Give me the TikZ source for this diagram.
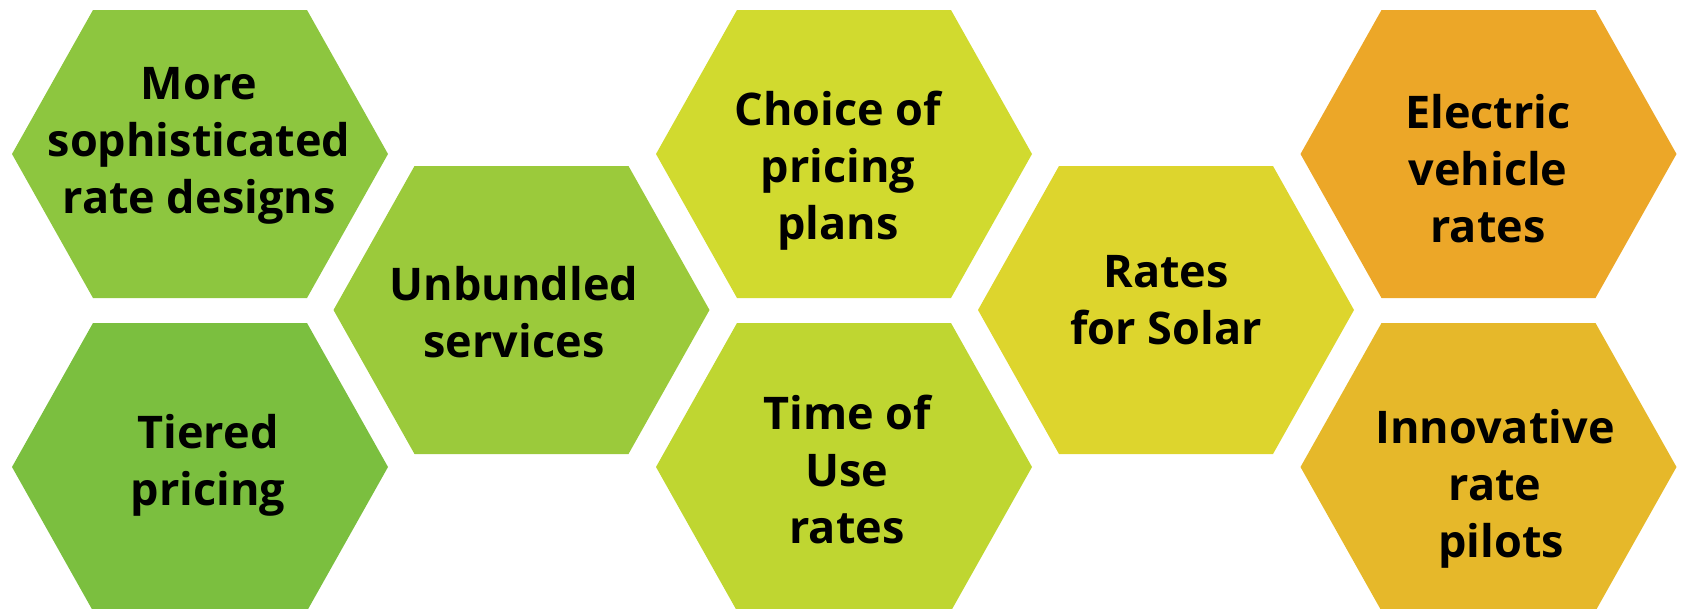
\documentclass[tikz,border=0pt]{standalone}
\usepackage{fontspec}
\setmainfont{Open Sans}
\definecolor{cA}{HTML}{8DC63F}
\definecolor{cB}{HTML}{7BBF3F}
\definecolor{cC}{HTML}{9BCA3B}
\definecolor{cD}{HTML}{D1DA2F}
\definecolor{cE}{HTML}{BFD631}
\definecolor{cF}{HTML}{DDD52D}
\definecolor{cG}{HTML}{ECA728}
\definecolor{cH}{HTML}{E6B82A}
\newcommand{\hexcell}[3]{\fill[#3, shift={(#1,#2)}] (-188,0) -- (-107,-144) -- (107,-144) -- (188,0) -- (107,144) -- (-107,144) -- cycle;}
\tikzset{hextext/.style={font=\bfseries\fontsize{45}{57}\selectfont, align=center, anchor=base, inner sep=0pt, text=black}}
\begin{document}
\begin{tikzpicture}[x=1pt,y=-1pt]
\useasboundingbox (0,0) rectangle (1681,608);
\hexcell{200}{154}{cA}
\hexcell{200}{467}{cB}
\hexcell{521.5}{310}{cC}
\hexcell{844}{154}{cD}
\hexcell{844}{467}{cE}
\hexcell{1166}{310}{cF}
\hexcell{1488.5}{154}{cG}
\hexcell{1488.5}{467}{cH}
\node[hextext] (t1) at (199,213) {More\\sophisticated\\rate designs};
\node[hextext] (t2) at (208,505) {Tiered\\pricing};
\node[hextext] (t3) at (514,357) {Unbundled\\services};
\node[hextext] (t4) at (838,239) {Choice of\\pricing\\plans};
\node[hextext] (t5) at (847,543) {Time of\\Use\\rates};
\node[hextext] (t6) at (1166,344) {Rates\\for Solar};
\node[hextext] (t7) at (1488,242) {Electric\\vehicle\\rates};
\node[hextext] (t8) at (1495,557) {Innovative\\rate\\\hspace*{0.27em}pilots};
\end{tikzpicture}
\end{document}
